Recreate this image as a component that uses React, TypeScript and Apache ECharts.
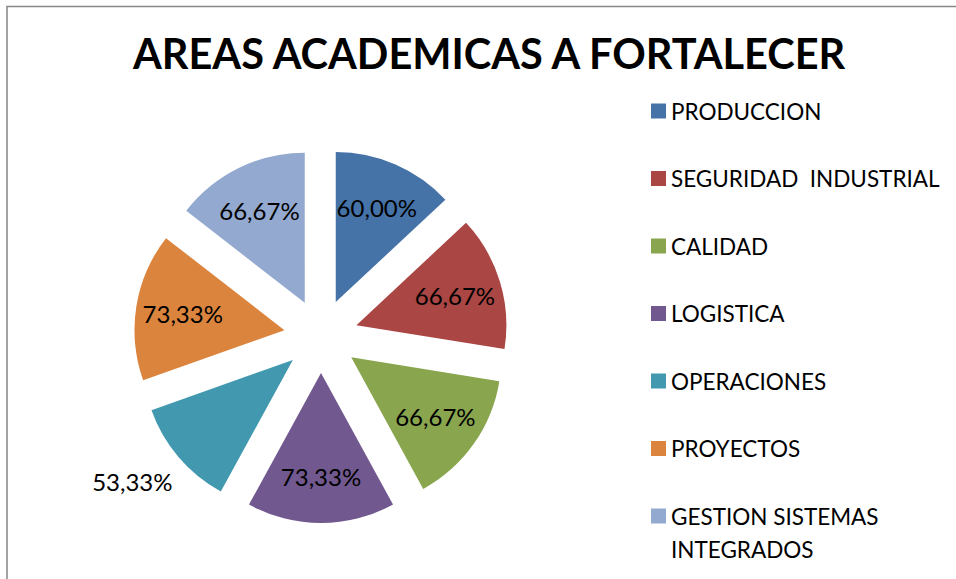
import { useEffect, useRef } from "react";
import * as echarts from "echarts";

const chartTitle = "AREAS ACADEMICAS A FORTALECER";
const categories = [
  "PRODUCCION",
  "SEGURIDAD  INDUSTRIAL",
  "CALIDAD",
  "LOGISTICA",
  "OPERACIONES",
  "PROYECTOS",
  "GESTION SISTEMAS INTEGRADOS",
];
const values = [60.0, 66.67, 66.67, 73.33, 53.33, 73.33, 66.67];
const colors = ["#4572A7", "#AA4643", "#89A54E", "#71588F", "#4198AF", "#DB843D", "#93A9CF"];
const outsideLabelCategories = ["OPERACIONES"];

const FONT = "Lato";

function fmtPct(v: number): string {
  return v.toFixed(2).replace(".", ",") + "%";
}

export default function App() {
  const ref = useRef<HTMLDivElement>(null);

  useEffect(() => {
    if (!ref.current) return;
    const chart = echarts.init(ref.current, undefined, { renderer: "svg" });

    const baseData = categories.map((name, i) => ({
      name,
      value: values[i],
      selected: true,
      itemStyle: { color: colors[i] },
    }));

    const labelData = categories.map((name, i) => {
      const outside = outsideLabelCategories.includes(name);
      return {
        name,
        value: values[i],
        selected: true,
        label: outside
          ? { position: "outside", distanceToLabelLine: -22 }
          : { position: "inside" },
        labelLine: { show: false, length: 37, length2: 0 },
      };
    });

    const labelStyle = {
      show: true,
      color: "#000000",
      fontFamily: FONT,
      fontSize: 24,
      formatter: (p: any) => fmtPct(p.value),
    };

    chart.setOption({
      animation: false,
      color: colors,
      title: {
        text: chartTitle,
        left: 133,
        top: 32,
        padding: 0,
        textStyle: {
          fontFamily: FONT,
          fontWeight: "bold",
          fontSize: 41.5,
          color: "#000000",
        },
      },
      legend: [
        {
          orient: "vertical",
          left: 651,
          top: 94.5,
          padding: 0,
          itemGap: 34.5,
          itemWidth: 15,
          itemHeight: 15,
          icon: "rect",
          selectedMode: false,
          data: categories.slice(0, 6),
          textStyle: { fontFamily: FONT, fontSize: 22.5, color: "#000000", lineHeight: 33 },
        },
        {
          orient: "vertical",
          left: 651,
          top: 466.5,
          padding: 0,
          itemWidth: 15,
          itemHeight: 15,
          icon: "rect",
          selectedMode: false,
          data: categories.slice(6),
          formatter: (name: string) => "\n" + name.replace("SISTEMAS ", "SISTEMAS\n"),
          textStyle: { fontFamily: FONT, fontSize: 22.5, color: "#000000", lineHeight: 33 },
        },
      ],
      graphic: [
        {
          type: "rect",
          shape: { x: 7, y: 6.5, width: 1200, height: 1200 },
          style: { fill: "none", stroke: "#878787", lineWidth: 1.5 },
          silent: true,
        },
      ],
      series: [
        {
          type: "pie",
          center: [321, 336],
          radius: [0, 150],
          startAngle: 90,
          clockwise: true,
          selectedMode: "multiple",
          selectedOffset: 37,
          avoidLabelOverlap: false,
          label: { show: false },
          labelLine: { show: false },
          emphasis: { disabled: true },
          select: { itemStyle: { borderWidth: 0 } },
          itemStyle: { borderWidth: 0 },
          data: baseData,
        },
        {
          type: "pie",
          center: [321, 336],
          radius: [50, 150],
          startAngle: 90,
          clockwise: true,
          selectedMode: "multiple",
          selectedOffset: 37,
          avoidLabelOverlap: false,
          silent: true,
          legendHoverLink: false,
          itemStyle: { color: "rgba(0,0,0,0)", borderWidth: 0 },
          label: labelStyle,
          labelLine: { show: false },
          emphasis: { disabled: true },
          select: { itemStyle: { color: "rgba(0,0,0,0)", borderWidth: 0 }, label: labelStyle },
          data: labelData,
        },
      ],
    });

    return () => chart.dispose();
  }, []);

  return (
    <div
      ref={ref}
      style={{ position: "absolute", left: 0, top: 0, width: 956, height: 579, background: "#ffffff" }}
    />
  );
}
